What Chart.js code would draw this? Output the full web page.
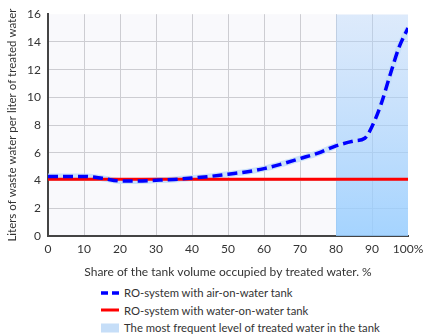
<!DOCTYPE html>
<html>
<head>
<meta charset="utf-8">
<script src="https://cdn.jsdelivr.net/npm/chart.js@4.4.0/dist/chart.umd.min.js"></script>
<style>
  body { margin: 0; background: #fff; font-family: Lato, sans-serif; }
  .wrap { position: relative; width: 430px; height: 335px; }
  #chart { position: absolute; left: 0; top: 0; }
  #legend { position: absolute; left: 101px; top: 284px; color: #333; font-size: 11.3px; }
  #legend .item { display: flex; align-items: center; height: 17.5px; white-space: nowrap; }
  #legend svg { margin-right: 5px; flex: none; }
</style>
</head>
<body>
<div class="wrap">
  <canvas id="chart" width="430" height="282"></canvas>
  <div id="legend"></div>
</div>
<script>
// share of tank volume (%) and waste water per liter of treated water
const tankShare = [0, 5, 10, 15, 20, 25, 30, 35, 40, 45, 50, 55, 60, 65, 70, 75, 80, 85, 88, 90, 92.5, 95, 97.5, 100];
const airOnWater = [4.3, 4.3, 4.3, 4.17, 3.97, 3.97, 4.02, 4.08, 4.18, 4.3, 4.46, 4.62, 4.86, 5.2, 5.59, 5.98, 6.5, 6.85, 7.05, 7.9, 9.5, 11.6, 13.6, 15.0];
const waterTankShare = [0, 100];
const waterOnWater = [4.1, 4.1];
const frequentRange = [80, 100];
const frequentTop = [16, 16];

const xTicks = [0, 10, 20, 30, 40, 50, 60, 70, 80, 90, 100];
const yTicks = [0, 2, 4, 6, 8, 10, 12, 14, 16];

const toPoints = (xs, ys) => xs.map((x, i) => ({ x: x, y: ys[i] }));

const labels = {
  air: 'RO-system with air-on-water tank',
  water: 'RO-system with water-on-water tank',
  band: 'The most frequent level of treated water in the tank'
};

// light plot background behind the grid
const plotBackground = {
  id: 'plotBackground',
  beforeDraw(chart) {
    const { ctx, chartArea: a } = chart;
    ctx.save();
    ctx.fillStyle = '#f9f9fc';
    ctx.fillRect(a.left, a.top, a.right - a.left, a.bottom - a.top);
    ctx.restore();
  }
};

const bandFill = (c) => {
  const a = c.chart.chartArea;
  if (!a) return 'rgba(170,210,250,0.6)';
  const g = c.chart.ctx.createLinearGradient(0, a.top, 0, a.bottom);
  g.addColorStop(0, 'rgba(175,210,250,0.38)');
  g.addColorStop(1, 'rgba(150,205,255,0.85)');
  return g;
};

const font = { family: 'Lato, sans-serif', size: 12 };

const chart = new Chart(document.getElementById('chart'), {
  type: 'line',
  data: {
    datasets: [
      {
        label: labels.air,
        data: toPoints(tankShare, airOnWater),
        borderColor: '#0000ff',
        borderWidth: 3.5,
        borderDash: [10, 5],
        cubicInterpolationMode: 'monotone',
        pointRadius: 0,
        order: 1,
        legendSymbol: 'dash'
      },
      {
        label: labels.water,
        data: toPoints(waterTankShare, waterOnWater),
        borderColor: '#ff0000',
        borderWidth: 3,
        pointRadius: 0,
        order: 2,
        legendSymbol: 'line'
      },
      {
        // pale halo under the dashed curve
        label: 'halo',
        data: toPoints(tankShare, airOnWater),
        borderColor: 'rgba(195,222,248,0.85)',
        borderWidth: 6,
        cubicInterpolationMode: 'monotone',
        pointRadius: 0,
        order: 3
      },
      {
        label: labels.band,
        data: toPoints(frequentRange, frequentTop),
        borderWidth: 0,
        backgroundColor: bandFill,
        fill: 'origin',
        pointRadius: 0,
        order: 4,
        legendSymbol: 'box'
      }
    ]
  },
  options: {
    responsive: false,
    animation: false,
    layout: { padding: { top: 10, right: 22, bottom: 0, left: 0 } },
    plugins: {
      legend: { display: false },
      tooltip: { enabled: false }
    },
    scales: {
      x: {
        type: 'linear',
        min: 0,
        max: 100,
        afterFit(scale) { scale.height = 46; },
        afterBuildTicks(scale) { scale.ticks = xTicks.map(v => ({ value: v })); },
        ticks: {
          color: '#333',
          font: font,
          padding: 6,
          maxRotation: 0,
          callback: (v) => v === 100 ? '100%' : v
        },
        grid: {
          color: (c) => c.tick && c.tick.value === 100 ? 'transparent' : '#cdcdd2',
          drawTicks: false
        },
        border: { color: '#444', width: 2 },
        title: {
          display: true,
          text: 'Share of the tank volume occupied by treated water. %',
          color: '#333',
          font: font,
          padding: { top: 0, bottom: 3 }
        }
      },
      y: {
        min: 0,
        max: 16,
        afterFit(scale) { scale.width = 48; },
        afterBuildTicks(scale) { scale.ticks = yTicks.map(v => ({ value: v })); },
        ticks: { color: '#333', font: font, padding: 7 },
        grid: {
          color: (c) => c.tick && c.tick.value === 16 ? 'transparent' : '#cdcdd2',
          drawTicks: false
        },
        border: { color: '#444', width: 2 },
        title: {
          display: true,
          text: 'Liters of waste water per liter of treated water',
          color: '#333',
          font: { family: 'Lato, sans-serif', size: 11.5 },
          padding: { top: 5, bottom: 0 }
        }
      }
    }
  },
  plugins: [plotBackground]
});

// legend rows built from the datasets that carry a symbol
const legendEl = document.getElementById('legend');
chart.data.datasets.filter(d => d.legendSymbol).forEach((d) => {
  const row = document.createElement('div');
  row.className = 'item';
  let svg;
  if (d.legendSymbol === 'box') {
    svg = '<svg width="18" height="10"><rect x="0" y="0.5" width="18" height="9" fill="#c6def8"/></svg>';
  } else {
    const dash = d.legendSymbol === 'dash' ? ' stroke-dasharray="7 4"' : '';
    svg = '<svg width="18" height="10"><line x1="0" y1="5" x2="18" y2="5" stroke="' + d.borderColor +
      '" stroke-width="' + d.borderWidth + '"' + dash + '/></svg>';
  }
  row.innerHTML = svg + '<span>' + d.label + '</span>';
  legendEl.appendChild(row);
});
</script>
</body>
</html>
